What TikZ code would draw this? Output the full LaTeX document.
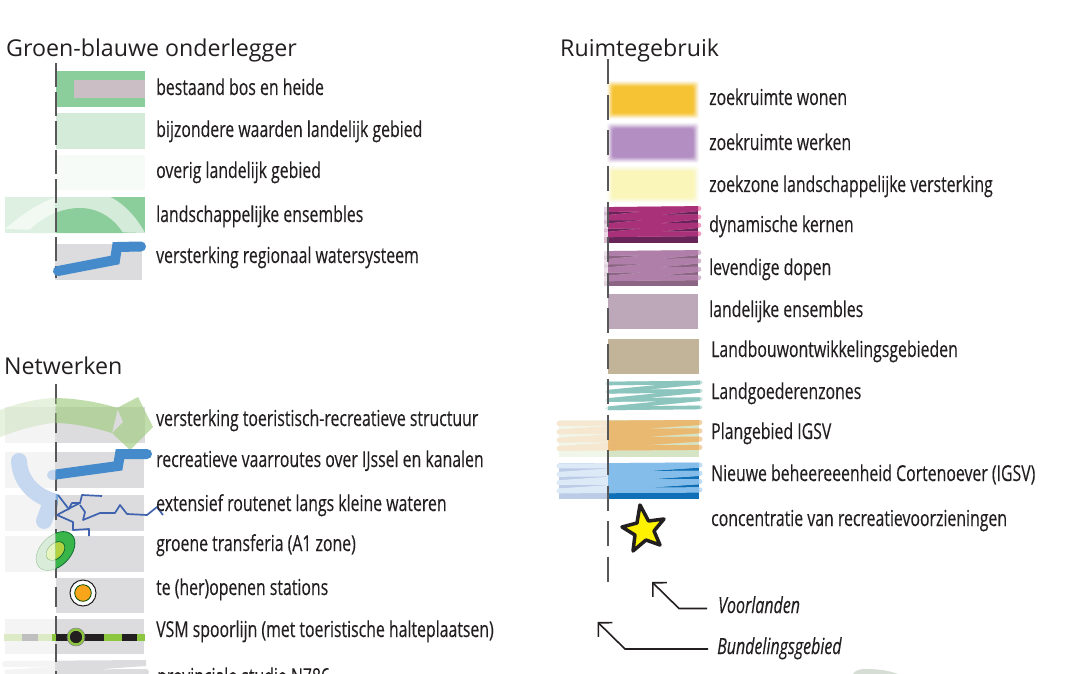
\documentclass[tikz,border=0pt]{standalone}
\usepackage{fontspec}
\setmainfont{Open Sans}
\newfontfamily\lab[FakeStretch=0.72,FakeBold=0.25]{Open Sans}
\usetikzlibrary{arrows.meta}
\definecolor{gr}{HTML}{DCDCDE}
\definecolor{lgr}{HTML}{F4F4F5}
\definecolor{bos}{HTML}{8CCD9C}
\definecolor{pal}{HTML}{D3EBD8}
\definecolor{blu}{HTML}{458BCB}
\definecolor{lblu}{HTML}{C5D8EF}
\definecolor{ax}{HTML}{58585A}
\definecolor{route}{HTML}{3F62AE}
\definecolor{leaf}{HTML}{A2CC80}
\definecolor{rail}{HTML}{8CC63F}
\definecolor{ink}{HTML}{231F20}
% zigzag rows: b base, s stripe, pb pale base, ps pale stripe, c cap
\definecolor{dynb}{HTML}{662459}\definecolor{dyns}{HTML}{A8317A}\definecolor{dynpb}{HTML}{D9BCD2}\definecolor{dynps}{HTML}{EAD7E6}\definecolor{dync}{HTML}{F49AC1}
\definecolor{levb}{HTML}{8C6585}\definecolor{levs}{HTML}{B07FA9}\definecolor{levpb}{HTML}{E0D3DE}\definecolor{levps}{HTML}{EDE2EB}\definecolor{levc}{HTML}{D5B9D2}
\definecolor{teab}{HTML}{FFFFFF}\definecolor{teas}{HTML}{8CC5BE}\definecolor{teapb}{HTML}{FFFFFF}\definecolor{teaps}{HTML}{DDEEEC}\definecolor{teac}{HTML}{C5E2DE}
\definecolor{igsb}{HTML}{D5E4C5}\definecolor{igss}{HTML}{EAB971}\definecolor{igspb}{HTML}{F1F6EA}\definecolor{igsps}{HTML}{F6E8D0}\definecolor{igsc}{HTML}{F3D3A6}
\definecolor{nwbb}{HTML}{0F70B7}\definecolor{nwbs}{HTML}{84BDE9}\definecolor{nwbpb}{HTML}{BCCBE6}\definecolor{nwbps}{HTML}{DCEAF8}\definecolor{nwbc}{HTML}{BFDDF4}
\tikzset{
 x=1pt,y=-1pt,
 lbl/.style={anchor=west,inner sep=0pt,text height=19pt,text depth=5pt,font=\lab\fontsize{22}{24}\selectfont,text=ink},
 ttl/.style={anchor=west,inner sep=0pt,text height=19pt,text depth=5pt,font=\fontsize{23.2}{25}\selectfont,text=ink},
 itl/.style={lbl,font=\lab\itshape\fontsize{22.2}{24}\selectfont},
 axisa/.style={draw=ax,line width=2pt,dash pattern=on 24pt off 5pt},
 axisb/.style={draw=ax,line width=2pt,dash pattern=on 20pt off 9pt},
 axisc/.style={draw=ax,line width=2pt,dash pattern=on 25pt off 10.5pt},
 arr/.style={draw=ink,line width=1.6pt,-{Straight Barb[length=10pt,width=20pt,line width=1.6pt]}},
 water/.style={line width=10pt,line cap=round,line join=miter},
 routeline/.style={draw=route,line width=1.7pt,line join=round},
}
\def\zw{6}
\def\lc{0}
\newcommand{\zigpath}[4]{(#1,#3) -- (#2,#3-1) -- (#1,#3+#4) -- (#2,#3+#4-1) -- (#1,#3+2*#4) -- (#2,#3+2*#4-1) -- (#1,#3+3*#4) -- (#2,#3+3*#4-1)}
\newcommand{\zigrow}[8]{% xL xM xR yt yb y0 spacing prefix
 \fill[#8pb] (#1,#4) rectangle (#2,#5);
 \fill[#8b] (#2,#4) rectangle (#3,#5);
 \begin{scope}\clip (#1-\lc,#4-6) rectangle (#2,#5+6);
 \draw[#8ps,line width=\zw pt,line cap=round,line join=round] \zigpath{#1}{#3+1}{#6}{#7};
 \end{scope}
 \begin{scope}\clip (#2,#4-6) rectangle (#3+6,#5+6);
 \draw[#8c,line width=\zw pt,line cap=round,line join=round] \zigpath{#1}{#3+1}{#6}{#7};
 \end{scope}
 \begin{scope}\clip (#2,#4-6) rectangle (#3,#5+6);
 \draw[#8s,line width=\zw pt,line cap=round,line join=round] \zigpath{#1}{#3+1}{#6}{#7};
 \end{scope}}
\newcommand{\blurbox}[5]{%
 \foreach \dd/\oo in {4/.1,3/.15,2/.2,1/.3,0/.4,-1/.6,-2/.8}{
  \fill[#5,opacity=\oo,rounded corners=2.5pt] (#1-\dd,#2-\dd) rectangle (#3+\dd,#4+\dd);}}
\begin{document}
\begin{tikzpicture}
\useasboundingbox (0,0) rectangle (1066,674);
\clip (0,0) rectangle (1066,674);
\fill[white] (0,0) rectangle (1066,674);
% ================ Groen-blauwe onderlegger
\node[ttl] (t1) at (6,50) {Groen-blauwe onderlegger};
\fill[bos] (56,71) rectangle (145,107);
\definecolor{heide}{HTML}{CBBEC5}
\fill[heide] (74,80) rectangle (145,98);
\fill[pal] (56,113) rectangle (145,149);
\definecolor{overig}{HTML}{F6FBF7}
\fill[overig] (57,155) rectangle (145,190);
% landschappelijke ensembles
\definecolor{palel}{HTML}{DDF0E2}
\definecolor{bandl}{HTML}{F2F9F3}
\definecolor{bandr}{HTML}{D5EBD9}
\begin{scope}
 \clip (5,197) rectangle (55.5,233);
 \fill[palel] (5,197) rectangle (56,233);
 \fill[bandl] (5,229) .. controls (25,212) and (43,199) .. (78,190) .. controls (105,188) and (130,205) .. (145,233) -- cycle;
 \fill[palel] (27,233) .. controls (40,218) and (60,208) .. (80,208) .. controls (100,208) and (115,220) .. (123,233) -- cycle;
\end{scope}
\begin{scope}
 \clip (55.5,197) rectangle (145,233);
 \fill[bos] (5,197) rectangle (145,233);
 \fill[bandr] (5,229) .. controls (25,212) and (43,199) .. (78,190) .. controls (105,188) and (130,205) .. (145,233) -- cycle;
 \fill[bos] (27,233) .. controls (40,218) and (60,208) .. (80,208) .. controls (100,208) and (115,220) .. (123,233) -- cycle;
\end{scope}
\fill[gr] (55,244) rectangle (142,280);
\draw[axisa] (55.5,63) -- (55.5,278);
\draw[blu,water] (58,271) -- (115,260) -- (117,247) -- (141,246.5);
\node[lbl] (l1) at (156,88) {bestaand bos en heide};
\node[lbl] (l2) at (156,130) {bijzondere waarden landelijk gebied};
\node[lbl] (l3) at (156,171) {overig landelijk gebied};
\node[lbl] (l4) at (156,215) {landschappelijke ensembles};
\node[lbl] (l5) at (156,256) {versterking regionaal watersysteem};
% ================ Netwerken
\node[ttl] (t2) at (4,367) {Netwerken};
\foreach \ya/\yb in {407/443,452/488,495/531,536/572,619/654}{
 \fill[lgr] (5,\ya) rectangle (55,\yb);
 \fill[gr] (55,\ya) rectangle (144,\yb);}
\fill[gr] (144,407) rectangle (145,443);
\fill[gr] (56,578) rectangle (144,613);
% light blue blob
\begin{scope}
 \clip (0,440) rectangle (55.5,535);
 \draw[lblu,line width=16pt,line cap=round] (19,461) .. controls (20,482) and (35,495) .. (50,500) .. controls (50,508) and (46,515) .. (44,521);
\end{scope}
\begin{scope}
 \clip (55.5,440) rectangle (70,535);
 \draw[blu!70!white,line width=16pt,line cap=round] (19,461) .. controls (20,482) and (35,495) .. (50,500) .. controls (50,508) and (46,515) .. (44,521);
\end{scope}
% axis
\draw[axisb] (55.5,384) -- (55.5,674);
% toeristische structuur
\begin{scope}
 \clip (0,380) rectangle (55.5,460);
 \fill[leaf,opacity=.26] (0,410) .. controls (18,403) and (36,399) .. (53,398) .. controls (75,398) and (98,402) .. (118,408) -- (112,433) .. controls (92,427) and (72,423) .. (53,423) .. controls (36,425) and (18,430) .. (0,437) -- cycle;
\end{scope}
\begin{scope}
 \clip (55.5,380) rectangle (160,460);
 \fill[leaf,opacity=.65] (0,410) .. controls (18,403) and (36,399) .. (53,398) .. controls (75,398) and (98,402) .. (118,408) -- (112,433) .. controls (92,427) and (72,423) .. (53,423) .. controls (36,425) and (18,430) .. (0,437) -- cycle;
 \fill[leaf,opacity=.65] (117,408) -- (138,397) -- (153,427) -- (130,450) -- (112,433) -- (123,422) -- cycle;
\end{scope}
% vaarroute
\begin{scope}
 \clip (40,440) rectangle (55.5,490);
 \draw[lblu,water] (52,475) -- (118,466) -- (120,454) -- (147,454);
\end{scope}
\begin{scope}
 \clip (55.5,440) rectangle (170,490);
 \draw[blu,water] (52,475) -- (118,466) -- (120,454) -- (147,454);
\end{scope}
% routes
\draw[routeline] (57,515) -- (72,507) -- (80,503) -- (82,495) -- (102,496);
\draw[routeline] (68,510) -- (72,503) -- (80,503);
\draw[routeline] (58,495) -- (68,508);
\draw[routeline] (80,505) -- (85,512) -- (83,520) -- (100,513) -- (115,513) -- (120,505) -- (127,514) -- (147,515) -- (157,507) -- (163,515);
\draw[routeline] (57,515) -- (73,522) -- (73,530) -- (89,529) -- (89,536);
% transferia
\begin{scope}
 \clip (0,530) rectangle (55.5,580);
 \fill[green!50!black!15!white,draw=green!40!black!40!white,rotate around={45:(55.5,551)}] (55.5,551) ellipse [x radius=23pt,y radius=15pt];
 \fill[yellow!60!green!25!white,draw=green!40!black!50!white,rotate around={45:(55.5,551)}] (55.5,551) ellipse [x radius=11pt,y radius=7.5pt];
\end{scope}
\begin{scope}
 \clip (55.5,530) rectangle (90,580);
 \definecolor{trg}{HTML}{39B54A}\definecolor{trd}{HTML}{0B6B32}\definecolor{try}{HTML}{B3D23F}
 \fill[trg,draw=trd,line width=.8pt,rotate around={45:(55.5,551)}] (55.5,551) ellipse [x radius=23pt,y radius=15pt];
 \fill[try,draw=trd,line width=.8pt,rotate around={45:(55.5,551)}] (55.5,551) ellipse [x radius=11pt,y radius=7.5pt];
\end{scope}
% stations
\fill[white,draw=ink,line width=1pt] (83,593) circle (13pt);
\definecolor{stat}{HTML}{F9A51B}
\fill[stat,draw=green!30!black,line width=.8pt] (83,593) circle (8.3pt);
% VSM
\definecolor{railp}{HTML}{DCEBC5}
\fill[railp] (4,634) rectangle (22,641);
\fill[black!25] (22,634) rectangle (38,641);
\fill[railp] (38,634) rectangle (52,641);
\fill[rail] (52,634) rectangle (56,641);
\fill[ink] (56,634) rectangle (104,641);
\fill[rail] (104,634) rectangle (122,641);
\fill[ink] (122,634) rectangle (137,641);
\fill[rail] (137,634) rectangle (145,641);
\fill[ink,draw=rail,line width=2.4pt] (76,637) circle (7.5pt);
\draw[ink!60,line width=.5pt] (76,637) circle (9pt);
% N786
\begin{scope}
 \clip (0,650) rectangle (55,674);
 \draw[lgr,line width=6pt,line cap=round] (5,664) -- (146,663) -- (5,673) -- (146,672);
\end{scope}
\begin{scope}
 \clip (55,650) rectangle (160,674);
 \draw[gr,line width=6pt,line cap=round] (5,664) -- (146,663) -- (5,673) -- (146,672);
\end{scope}
\draw[draw=ax,line width=2pt] (55.5,644) -- (55.5,662);
\draw[draw=ax,line width=2pt] (55.5,671) -- (55.5,674);
\node[lbl] (n1) at (156,419) {versterking toeristisch-recreatieve structuur};
\node[lbl] (n2) at (156,460) {recreatieve vaarroutes over IJssel en kanalen};
\node[lbl] (n3) at (156,504) {extensief routenet langs kleine wateren};
\node[lbl] (n4) at (156,544) {groene transferia (A1 zone)};
\node[lbl] (n5) at (156,588) {te (her)openen stations};
\node[lbl] (n6) at (156,630) {VSM spoorlijn (met toeristische halteplaatsen)};
\node[lbl] (n7) at (157,677) {provinciale studie N786};
% ================ Ruimtegebruik
\node[ttl] (t3) at (560,50) {Ruimtegebruik};
\definecolor{wonen}{HTML}{F6C231}\definecolor{werken}{HTML}{B18CC2}\definecolor{zone}{HTML}{FAF6B8}
\blurbox{611}{85}{695}{115}{wonen}
\blurbox{611}{127}{695}{159}{werken}
\blurbox{611}{170}{695}{199}{zone}
\def\zw{4.8}
\zigrow{604}{608}{698}{207}{243}{209.5}{8.4}{dyn}
\zigrow{604}{608}{698}{251}{286}{253.5}{8.4}{lev}
\definecolor{lens}{HTML}{BCA8B9}\definecolor{lbw}{HTML}{C2B498}
\fill[lens] (608,294) rectangle (698,329);
\fill[lbw] (608,339) rectangle (699,374);
\def\zw{3.6}
\def\lc{3}
\zigrow{607}{608}{700}{381}{410}{383.5}{8.3}{tea}
\def\zw{5}
\zigrow{559}{608}{699}{420}{457}{423.5}{8.3}{igs}
\zigrow{559}{608}{699}{463}{499}{466}{8.3}{nwb}
\draw[axisc] (607.5,59.5) -- (607.5,581.5);
% star
\fill[yellow,draw=ink,line width=3.5pt,line join=round] (640,505) -- (648.5,521) -- (664,519) -- (654,531) -- (660,545) -- (646,540) -- (633,551) -- (635,535) -- (622,527) -- (637,523) -- cycle;
\node[lbl] (r1) at (709,98) {zoekruimte wonen};
\node[lbl] (r2) at (709,143) {zoekruimte werken};
\node[lbl] (r3) at (709,185) {zoekzone landschappelijke versterking};
\node[lbl] (r4) at (709,225) {dynamische kernen};
\node[lbl] (r5) at (709,268) {levendige dopen};
\node[lbl] (r6) at (709,310) {landelijke ensembles};
\node[lbl] (r7) at (711,350) {Landbouwontwikkelingsgebieden};
\node[lbl] (r8) at (711,392) {Landgoederenzones};
\node[lbl] (r9) at (711,432) {Plangebied IGSV};
\node[lbl] (r10) at (711,474) {Nieuwe beheereeenheid Cortenoever (IGSV)};
\node[lbl] (r11) at (711,519) {concentratie van recreatievoorzieningen};
\node[itl] (v) at (718,606) {Voorlanden};
\node[itl] (b) at (717,647) {Bundelingsgebied};
\coordinate (vt) at (652,582);
\coordinate (bt) at (597.5,622);
\coordinate (vs) at (707,608.5);
\coordinate (bs) at (708,649);
\draw[arr] (vs) -- (679,608.5) -- (vt);
\draw[arr] (bs) -- (625,649) -- (bt);
% blob at the lower edge
\definecolor{blobc}{HTML}{D5DDD5}
\fill[blobc] (852,675) .. controls (855,670) and (860,669) .. (866,669) .. controls (880,669) and (890,671) .. (898,674) -- cycle;
\end{tikzpicture}
\end{document}
